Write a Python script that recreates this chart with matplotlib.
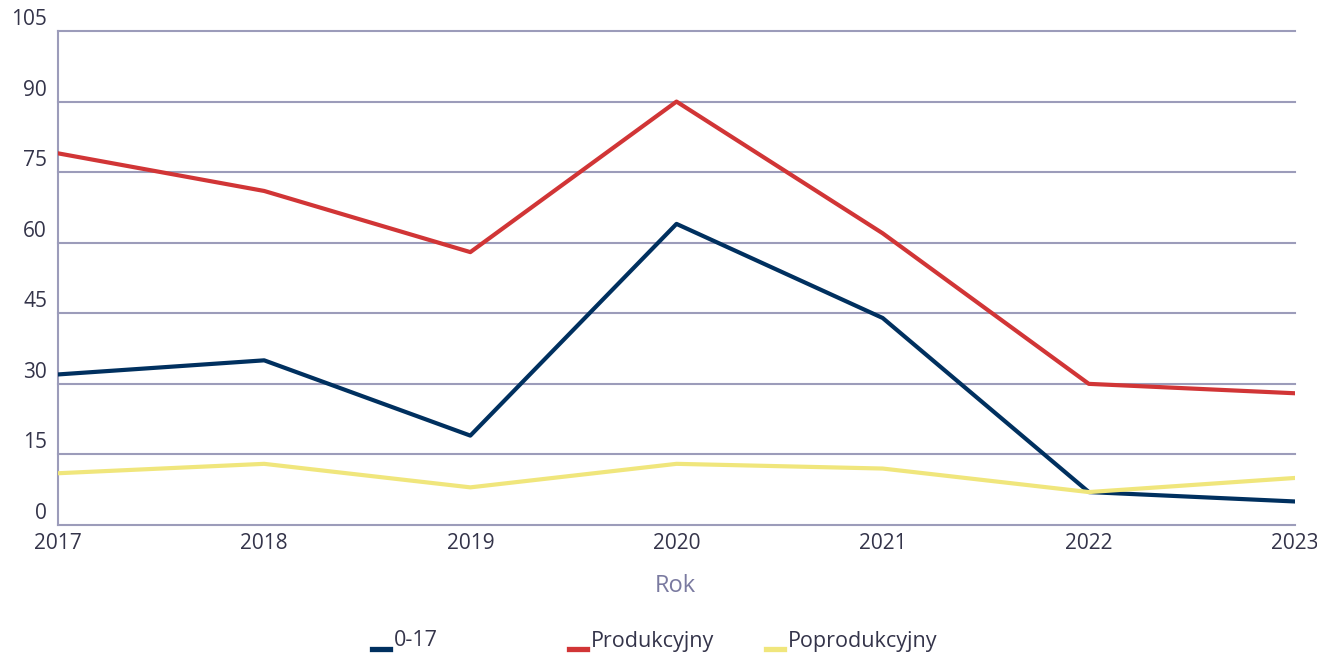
import matplotlib.pyplot as plt
from matplotlib.lines import Line2D

# dane
lata = [2017, 2018, 2019, 2020, 2021, 2022, 2023]
wiek_0_17 = [32, 35, 19, 64, 44, 7, 5]
produkcyjny = [79, 71, 58, 90, 62, 30, 28]
poprodukcyjny = [11, 13, 8, 13, 12, 7, 10]
y_ticks = [0, 15, 30, 45, 60, 75, 90, 105]

kolory = {"0-17": "#00305f", "Produkcyjny": "#d13536", "Poprodukcyjny": "#f0e67c"}
kolor_siatki = "#9c9cba"
kolor_tekstu = "#34344a"

plt.rcParams['font.family'] = ['Open Sans', 'DejaVu Sans']

fig = plt.figure(figsize=(13.17, 6.56), dpi=100)
ax = fig.add_axes([58/1317, 1 - 525/656, (1295-58)/1317, (525-31)/656])

ax.plot(lata, wiek_0_17, color=kolory["0-17"], lw=3, zorder=3)
ax.plot(lata, produkcyjny, color=kolory["Produkcyjny"], lw=3, zorder=3)
ax.plot(lata, poprodukcyjny, color=kolory["Poprodukcyjny"], lw=3, zorder=3)

ax.set_xlim(2017, 2023)
ax.set_ylim(0, 105)
ax.set_xticks(lata)
ax.set_xticklabels([str(r) for r in lata], fontsize=15, color=kolor_tekstu)
ax.tick_params(axis='x', length=0, pad=6)
ax.set_yticks(y_ticks)
ax.set_yticklabels([])
ax.tick_params(axis='y', length=0)

# siatka
for v in y_ticks:
    ax.axhline(v, color=kolor_siatki, lw=1.5, zorder=1, clip_on=False)
    ax.text(-11/1237, v + 0.2, str(v), transform=ax.get_yaxis_transform(),
            ha='right', va='bottom', fontsize=15, color=kolor_tekstu)

for s in ['top', 'right', 'bottom']:
    ax.spines[s].set_visible(False)
ax.spines['left'].set_color(kolor_siatki)
ax.spines['left'].set_linewidth(1.5)

fig.text(675/1317, 1 - 586/656, "Rok", ha='center', va='center',
         fontsize=17, color="#7a7aa0")

# legenda
pozycje = [372, 569, 766]
for x0, nazwa in zip(pozycje, kolory):
    y0 = 1 - 649/656
    fig.add_artist(Line2D([x0/1317, (x0+18)/1317], [y0, y0],
                          transform=fig.transFigure, color=kolory[nazwa], lw=3.8))
    fig.text((x0+22)/1317, 1 - 641/656, nazwa, ha='left', va='center',
             fontsize=15.5, color=kolor_tekstu)

plt.savefig("out.png", dpi=100)
